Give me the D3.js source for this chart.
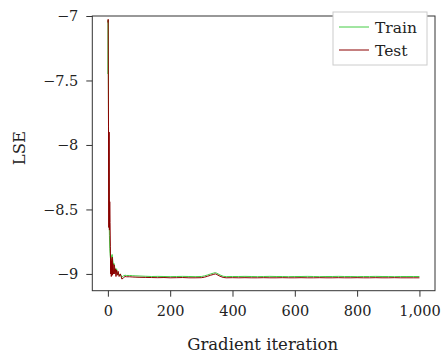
<!DOCTYPE html>
<html>
<head>
<meta charset="utf-8">
<script src="https://cdn.jsdelivr.net/npm/d3@7"></script>
<style>
  body { margin: 0; background: #fff; }
  svg text { font-family: "DejaVu Serif", "Liberation Serif", serif; fill: #222; }
</style>
</head>
<body>
<svg id="chart" width="441" height="356"></svg>
<script>
// iterations shared by both series
const iters = [0,1,2,3,4,5,6,7,8,9,10,11,12,13,14,15,16,18,20,22,24,26,28,30,33,36,40,45,50,55,60,70,80,90,100,
  120,140,160,180,200,220,240,260,280,300,310,320,330,340,345,350,360,370,380,400,420,440,460,480,500,
  520,540,560,580,600,620,640,660,680,700,720,740,760,780,800,820,840,860,880,900,920,940,960,980,1000];

const trainLse = [-7.45,-7.03,-7.85,-8.3,-8.55,-8.7,-8.8,-8.84,-8.87,-8.89,-8.9,-8.88,-8.86,-8.85,-8.85,-8.88,-8.9,-8.93,-8.92,-8.95,-8.97,-8.98,-8.96,-8.99,-9.0,-9.01,-9.0,-9.025,-9.015,-9.01,-9.012,-9.012,-9.014,-9.015,-9.016,
  -9.018,-9.02,-9.019,-9.02,-9.021,-9.02,-9.019,-9.02,-9.021,-9.02,-9.015,-9.008,-9.0,-8.993,-8.99,-8.995,-9.008,-9.018,-9.021,-9.02,
  -9.02,-9.019,-9.02,-9.021,-9.02,-9.019,-9.02,-9.02,-9.021,-9.02,-9.02,-9.019,-9.02,-9.021,-9.02,-9.02,-9.019,-9.02,-9.02,-9.021,
  -9.02,-9.02,-9.019,-9.02,-9.02,-9.021,-9.02,-9.02,-9.02,-9.02];

const testLse = [-7.05,-7.026,-7.86,-8.64,-7.9,-8.66,-8.44,-8.6,-8.79,-9.0,-8.88,-9.02,-8.9,-9.0,-8.87,-9.01,-8.92,-9.0,-8.93,-9.0,-8.96,-9.02,-8.97,-9.01,-8.98,-9.02,-9.0,-9.04,-9.03,-9.02,-9.022,-9.022,-9.024,-9.025,-9.026,
  -9.027,-9.028,-9.029,-9.028,-9.03,-9.029,-9.028,-9.03,-9.03,-9.029,-9.025,-9.018,-9.01,-9.003,-9.0,-9.005,-9.018,-9.027,-9.03,-9.029,
  -9.03,-9.029,-9.03,-9.03,-9.029,-9.03,-9.03,-9.029,-9.03,-9.03,-9.029,-9.03,-9.03,-9.029,-9.03,-9.03,-9.029,-9.03,-9.03,-9.029,
  -9.03,-9.03,-9.029,-9.03,-9.03,-9.029,-9.03,-9.03,-9.03,-9.03];

const xTicks = [0, 200, 400, 600, 800, 1000];
const yTicks = [-9, -8.5, -8, -7.5, -7];
const seriesNames = ["Train", "Test"];
const seriesColors = ["#44cc44", "#8b0000"];

const box = {left: 92.3, right: 435, top: 16, bottom: 290.7};

const svg = d3.select("#chart");
const x = d3.scaleLinear().domain([-50, 1050]).range([box.left, box.right]);
const y = d3.scaleLinear().domain([-9.13, -7]).range([box.bottom, box.top]);

svg.append("clipPath").attr("id", "clip")
  .append("rect")
  .attr("x", box.left).attr("y", box.top)
  .attr("width", box.right - box.left).attr("height", box.bottom - box.top);

const line = d3.line().x((d, i) => x(iters[i])).y(d => y(d));

const plot = svg.append("g").attr("clip-path", "url(#clip)");
[trainLse, testLse].forEach((s, k) => {
  plot.append("path")
    .datum(s)
    .attr("d", line)
    .attr("fill", "none")
    .attr("stroke", seriesColors[k])
    .attr("stroke-width", 1)
    .attr("stroke-linejoin", "round");
});

// axes
const xAxis = svg.append("g")
  .attr("transform", `translate(0,${box.bottom})`)
  .call(d3.axisBottom(x).tickValues(xTicks).tickFormat(d3.format(",")).tickSize(6).tickSizeOuter(0).tickPadding(9));
const yAxis = svg.append("g")
  .attr("transform", `translate(${box.left},0)`)
  .call(d3.axisLeft(y).tickValues(yTicks).tickFormat(d3.format("")).tickSize(6).tickSizeOuter(0).tickPadding(8));

[xAxis, yAxis].forEach(a => {
  a.select(".domain").remove();
  a.selectAll("line").attr("stroke", "#333");
  a.selectAll("text").attr("font-size", 14.5).attr("font-family", "DejaVu Serif, serif").attr("fill", "#222");
});

// frame
svg.append("rect")
  .attr("x", box.left).attr("y", box.top)
  .attr("width", box.right - box.left).attr("height", box.bottom - box.top)
  .attr("fill", "none").attr("stroke", "#333").attr("stroke-width", 1);

svg.append("text")
  .attr("x", (box.left + box.right) / 2 - 1).attr("y", 350)
  .attr("text-anchor", "middle").attr("font-size", 16.5)
  .text("Gradient iteration");

svg.append("text")
  .attr("transform", "translate(25,148) rotate(-90)")
  .attr("text-anchor", "middle").attr("font-size", 16.5)
  .text("LSE");

// legend
const lg = svg.append("g");
lg.append("rect").attr("x", 333).attr("y", 12).attr("width", 94).attr("height", 53)
  .attr("fill", "#fff").attr("stroke", "#ccc");
seriesNames.forEach((n, i) => {
  const ly = 27 + i * 23;
  lg.append("line").attr("x1", 339).attr("x2", 369).attr("y1", ly).attr("y2", ly)
    .attr("stroke", seriesColors[i]).attr("stroke-width", 1);
  lg.append("text").attr("x", 375).attr("y", ly + 5.5).attr("font-size", 15.5).text(n);
});
</script>
</body>
</html>
